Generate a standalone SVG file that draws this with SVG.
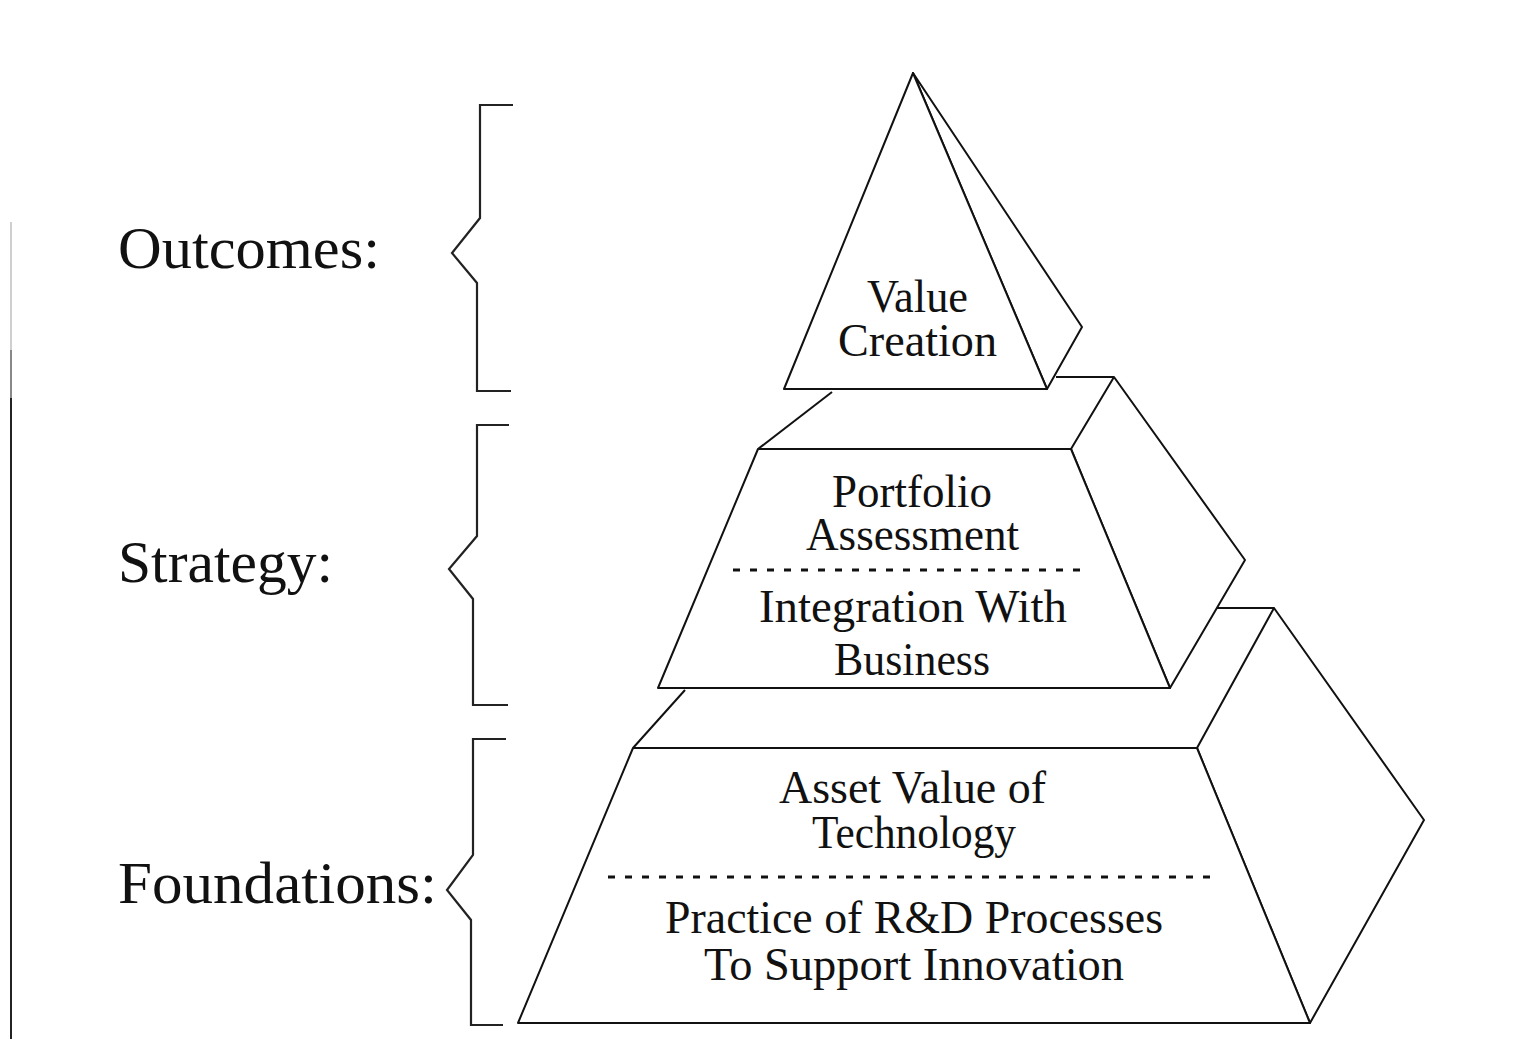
<svg xmlns="http://www.w3.org/2000/svg" width="1524" height="1039" viewBox="0 0 1524 1039">
  <style>
    .edge { fill: none; stroke: #111; stroke-width: 2; stroke-linejoin: round; }
    .face { fill: #fff; stroke: #111; stroke-width: 2; stroke-linejoin: round; }
    .brace { fill: none; stroke: #222; stroke-width: 2.2; stroke-linejoin: miter; }
    .sep { stroke: #111; stroke-width: 3; stroke-dasharray: 7 10; }
    .lbl { font-family: "Liberation Serif", "Times New Roman", serif; font-size: 47px; fill: #111; }
    .side { font-family: "Liberation Serif", "Times New Roman", serif; font-size: 60px; fill: #111; }
  </style>
  <rect width="1524" height="1039" fill="#fff"/>

  <!-- page edge rule on the left -->
  <g id="page-rule">
    <line x1="11" y1="222" x2="11" y2="350" stroke="#cfcfcf" stroke-width="2"/>
    <line x1="11" y1="350" x2="11" y2="398" stroke="#888" stroke-width="2"/>
    <line x1="11" y1="398" x2="11" y2="1039" stroke="#222" stroke-width="2"/>
  </g>

  <!-- level braces -->
  <g id="braces">
    <polyline class="brace" points="513,105 480,105 480,218 452,253 477,283 477,391 511,391"/>
    <polyline class="brace" points="509,425 477,425 477,536 449,569 473,599 473,705 508,705"/>
    <polyline class="brace" points="506,739 473,739 473,855 447,890 471,920 471,1025 503,1025"/>
  </g>

  <!-- level labels -->
  <g id="labels">
    <text class="side" x="118" y="268" textLength="262" lengthAdjust="spacingAndGlyphs">Outcomes:</text>
    <text class="side" x="118" y="582" textLength="215" lengthAdjust="spacingAndGlyphs">Strategy:</text>
    <text class="side" x="118" y="903" textLength="319" lengthAdjust="spacingAndGlyphs">Foundations:</text>
  </g>

  <!-- base tier -->
  <g id="tier-foundations">
    <polygon class="face" points="1197,748 1274,608 1424,820 1310,1023"/>
    <polygon class="face" points="518,1023 633,748 1197,748 1310,1023"/>
    <line class="edge" x1="633" y1="748" x2="685" y2="690"/>
    <line class="edge" x1="1216" y1="608" x2="1274" y2="608"/>
    <line class="sep" x1="608" y1="877" x2="1218" y2="877"/>
    <text class="lbl" x="779" y="803" textLength="267" lengthAdjust="spacingAndGlyphs">Asset Value of</text>
    <text class="lbl" x="812" y="848" textLength="204" lengthAdjust="spacingAndGlyphs">Technology</text>
    <text class="lbl" x="665" y="933" textLength="498" lengthAdjust="spacingAndGlyphs">Practice of R&amp;D Processes</text>
    <text class="lbl" x="704" y="980" textLength="420" lengthAdjust="spacingAndGlyphs">To Support Innovation</text>
  </g>

  <!-- middle tier -->
  <g id="tier-strategy">
    <polygon class="face" points="1071,449 1114,377 1245,560 1170,688"/>
    <polygon class="face" points="658,688 758,449 1071,449 1170,688"/>
    <line class="edge" x1="758" y1="449" x2="832" y2="392"/>
    <line class="edge" x1="1056" y1="377" x2="1114" y2="377"/>
    <line class="sep" x1="733" y1="570" x2="1088" y2="570"/>
    <text class="lbl" x="832" y="507" textLength="160" lengthAdjust="spacingAndGlyphs">Portfolio</text>
    <text class="lbl" x="806" y="550" textLength="213" lengthAdjust="spacingAndGlyphs">Assessment</text>
    <text class="lbl" x="759" y="622" textLength="308" lengthAdjust="spacingAndGlyphs">Integration With</text>
    <text class="lbl" x="834" y="675" textLength="156" lengthAdjust="spacingAndGlyphs">Business</text>
  </g>

  <!-- apex tier -->
  <g id="tier-outcomes">
    <polygon class="face" points="913,73 1082,327 1047,389"/>
    <polygon class="face" points="913,73 784,389 1047,389"/>
    <text class="lbl" x="867" y="312" textLength="101" lengthAdjust="spacingAndGlyphs">Value</text>
    <text class="lbl" x="838" y="356" textLength="159" lengthAdjust="spacingAndGlyphs">Creation</text>
  </g>
</svg>
